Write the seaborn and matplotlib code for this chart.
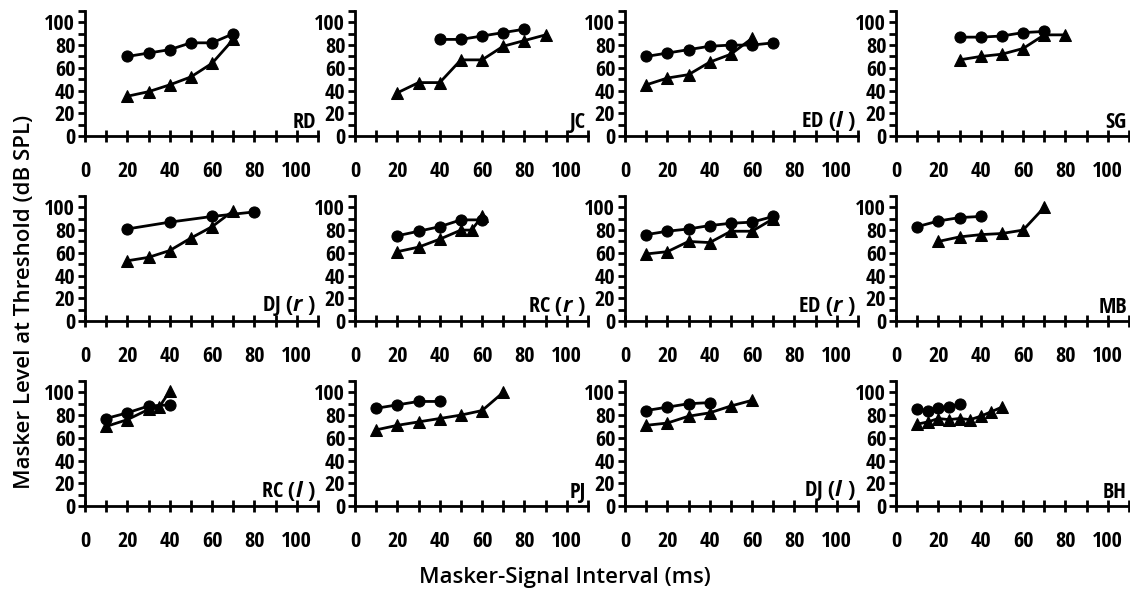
import numpy as np
import pandas as pd
import matplotlib
matplotlib.use("Agg")
import matplotlib.pyplot as plt
import seaborn as sns

# panel names, in reading order
panels = ["RD", "JC", "ED (l)", "SG",
          "DJ (r)", "RC (r)", "ED (r)", "MB",
          "RC (l)", "PJ", "DJ (l)", "BH"]

# circles
circ_x = [[20, 30, 40, 50, 60, 70],
          [40, 50, 60, 70, 80],
          [10, 20, 30, 40, 50, 60, 70],
          [30, 40, 50, 60, 70],
          [20, 40, 60, 80],
          [20, 30, 40, 50, 60],
          [10, 20, 30, 40, 50, 60, 70],
          [10, 20, 30, 40],
          [10, 20, 30, 40],
          [10, 20, 30, 40],
          [10, 20, 30, 40],
          [10, 15, 20, 25, 30]]
circ_y = [[70, 73, 76, 82, 82, 90],
          [85, 85, 88, 91, 94],
          [70, 73, 76, 79, 80, 80, 82],
          [87, 87, 88, 91, 92],
          [81, 87, 92, 96],
          [75, 79, 83, 89, 89],
          [76, 79, 81, 84, 86, 87, 92],
          [83, 88, 91, 92],
          [77, 82, 88, 89],
          [86, 89, 92, 92],
          [84, 87, 90, 91],
          [85, 84, 86, 87, 90]]

# triangles
tri_x = [[20, 30, 40, 50, 60, 70],
         [20, 30, 40, 50, 60, 70, 80, 90],
         [10, 20, 30, 40, 50, 60],
         [30, 40, 50, 60, 70, 80],
         [20, 30, 40, 50, 60, 70],
         [20, 30, 40, 50, 55, 60],
         [10, 20, 30, 40, 50, 60, 70],
         [20, 30, 40, 50, 60, 70],
         [10, 20, 30, 35, 40],
         [10, 20, 30, 40, 50, 60, 70],
         [10, 20, 30, 40, 50, 60],
         [10, 15, 20, 25, 30, 35, 40, 45, 50]]
tri_y = [[35, 39, 45, 52, 64, 85],
         [38, 47, 47, 67, 67, 79, 84, 89],
         [45, 51, 54, 65, 72, 86],
         [67, 70, 72, 77, 89, 89],
         [53, 56, 62, 73, 83, 97],
         [61, 65, 72, 80, 80, 92],
         [59, 61, 70, 69, 79, 79, 90],
         [70, 74, 76, 77, 80, 100],
         [70, 76, 85, 87, 101],
         [67, 71, 74, 77, 80, 84, 100],
         [71, 73, 79, 82, 88, 93],
         [72, 74, 77, 76, 77, 76, 79, 83, 87]]

rows = []
for i, name in enumerate(panels):
    for x, y in zip(circ_x[i], circ_y[i]):
        rows.append((name, "circle", x, y))
    for x, y in zip(tri_x[i], tri_y[i]):
        rows.append((name, "triangle", x, y))
df = pd.DataFrame(rows, columns=["panel", "shape", "interval", "level"])

sns.set_style("ticks")
FONT = "Open Sans Condensed"
plt.rcParams["font.family"] = [FONT, "DejaVu Sans"]
plt.rcParams["text.color"] = "black"
plt.rcParams["xtick.color"] = "black"
plt.rcParams["ytick.color"] = "black"
plt.rcParams["mathtext.fontset"] = "custom"
plt.rcParams["mathtext.it"] = "Open Sans:italic:bold"
plt.rcParams["mathtext.rm"] = FONT + ":bold"

fig = plt.figure(figsize=(11.3, 5.92), dpi=100)

lefts = [85, 355, 625, 896]
bottoms = [136, 321, 506]
W, H = 1130., 592.

for i, name in enumerate(panels):
    r, c = divmod(i, 4)
    ax = fig.add_axes([lefts[c] / W, (H - bottoms[r]) / H, 233 / W, 125 / H])
    sub = df[df.panel == name]
    sns.lineplot(data=sub, x="interval", y="level", style="shape",
                 markers={"circle": "o", "triangle": "^"}, dashes=False,
                 color="black", linewidth=2, markersize=8, markeredgecolor="black",
                 legend=False, ax=ax, sort=False)
    ax.set_xlim(0, 110)
    ax.set_ylim(0, 110)
    ax.set_xticks(range(0, 101, 20))
    ax.set_xticks(range(10, 111, 20), minor=True)
    ax.set_yticks(range(0, 101, 20))
    ax.set_yticks(range(10, 111, 20), minor=True)
    for s in ["top", "right"]:
        ax.spines[s].set_visible(False)
    for s in ["left", "bottom"]:
        ax.spines[s].set_linewidth(2)
        ax.spines[s].set_color("black")
    ax.tick_params(axis="x", which="both", direction="inout", length=8, width=2,
                   pad=14, labelsize=16)
    ax.tick_params(axis="y", which="both", direction="out", length=5, width=2,
                   pad=2, labelsize=16)
    for lab in ax.get_xticklabels() + ax.get_yticklabels():
        lab.set_fontweight("bold")
    ax.set_xlabel("")
    ax.set_ylabel("")
    label = name.replace("(l)", r"($\it{l}$ )").replace("(r)", r"($\it{r}$ )")
    ax.text(109, 3, label, ha="right", va="bottom", fontsize=16, fontweight="bold")

fig.text(0.022, 0.49, "Masker Level at Threshold (dB SPL)", rotation=90,
         ha="center", va="center", fontsize=16, fontweight="semibold",
         family=["Open Sans", "DejaVu Sans"])
fig.text(0.5, 0.024, "Masker-Signal Interval (ms)", ha="center", va="center",
         fontsize=16, fontweight="semibold", family=["Open Sans", "DejaVu Sans"])

fig.savefig("out.png", dpi=100)
